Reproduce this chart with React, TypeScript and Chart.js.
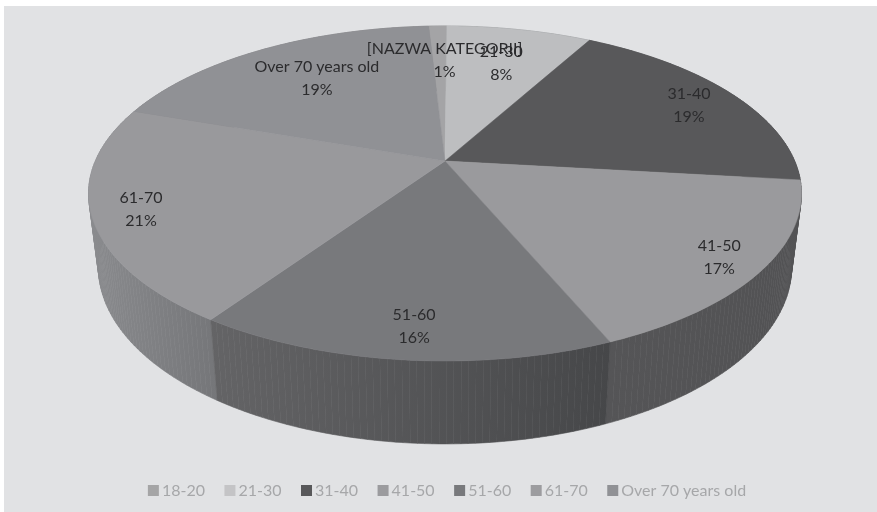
import { useEffect, useRef } from "react";
import { Chart, registerables } from "chart.js";

Chart.register(...registerables);

const categories = ["18-20", "21-30", "31-40", "41-50", "51-60", "61-70", "Over 70 years old"];
const sliceCaptions = ["[NAZWA KATEGORII]", "21-30", "31-40", "41-50", "51-60", "61-70", "Over 70 years old"];
const shares = [1, 8, 19, 17, 16, 21, 19];
const faceColors = ["#a4a4a6", "#bdbec0", "#58585a", "#9a9a9d", "#78797c", "#99999c", "#909195"];
const legendColors = ["#a5a5a6", "#c4c4c6", "#58585a", "#9b9b9e", "#78797c", "#9c9c9f", "#909195"];
const wallLeftColors = ["#808183", "#909193", "#505052", "#555557", "#646466", "#8a8b8e", "#808184"];
const wallRightColors = ["#808183", "#909193", "#505052", "#525254", "#464749", "#757679", "#808184"];
const captionRadii = [0.71, 0.71, 0.84, 0.88, 0.86, 0.87, 0.7];
const captionNudgeX = [5, 1, 1, 0, 5, 1, 5];
const captionNudgeY = [0, 0, 2, 1, 0, 2, -1];

// Perspective of the disc: the rim's near side is foreshortened less than its far side.
const TILT = 0.194;
const topRim = { cx: 445, cy: 161, ax: 349.7, ay: 161.2 };
const bottomRim = { cx: 445, cy: 233, ax: 340, ay: 170 };

type Rim = typeof topRim;

function project(rim: Rim, angle: number, radius = 1) {
  const u = Math.cos(angle) * radius;
  const v = -Math.sin(angle) * radius;
  const w = 1 + TILT * v;
  return { x: rim.cx + (rim.ax * u) / w, y: rim.cy - (rim.ay * v) / w };
}

function rimPoints(rim: Rim, start: number, end: number) {
  const steps = Math.max(2, Math.ceil(((end - start) * 180) / Math.PI));
  const pts = [];
  for (let i = 0; i <= steps; i++) pts.push(project(rim, start + ((end - start) * i) / steps));
  return pts;
}

const disc3d = {
  id: "disc3d",
  beforeDraw(chart: any) {
    const { ctx, width, height } = chart;
    ctx.save();
    ctx.fillStyle = "#ffffff";
    ctx.fillRect(0, 0, width, height);
    ctx.fillStyle = "#e1e2e4";
    ctx.fillRect(4, 6, width - 4, height - 6);
    ctx.restore();
  },
  beforeDatasetDraw(chart: any) {
    const { ctx } = chart;
    const arcs = chart.getDatasetMeta(0).data;
    ctx.save();

    // Side wall, far slices first so nearer ones cover them. Each degree of rim
    // is its own quad, since the two rims cross near the silhouette.
    const order = arcs
      .map((arc: any, i: number) => ({ i, mid: (arc.startAngle + arc.endAngle) / 2 }))
      .sort((a: any, b: any) => Math.sin(a.mid) - Math.sin(b.mid));
    for (const { i } of order) {
      const upper = rimPoints(topRim, arcs[i].startAngle, arcs[i].endAngle);
      const lower = rimPoints(bottomRim, arcs[i].startAngle, arcs[i].endAngle);
      const xs = [...upper, ...lower].map((p) => p.x);
      const grad = ctx.createLinearGradient(Math.min(...xs), 0, Math.max(...xs), 0);
      grad.addColorStop(0, wallLeftColors[i]);
      grad.addColorStop(1, wallRightColors[i]);
      ctx.fillStyle = grad;
      ctx.strokeStyle = grad;
      ctx.lineWidth = 0.6;
      for (let k = 0; k < upper.length - 1; k++) {
        ctx.beginPath();
        ctx.moveTo(upper[k].x, upper[k].y);
        ctx.lineTo(upper[k + 1].x, upper[k + 1].y);
        ctx.lineTo(lower[k + 1].x, lower[k + 1].y);
        ctx.lineTo(lower[k].x, lower[k].y);
        ctx.closePath();
        ctx.fill();
        ctx.stroke();
      }
    }

    // Top face of the disc.
    arcs.forEach((arc: any, i: number) => {
      ctx.fillStyle = faceColors[i];
      ctx.strokeStyle = faceColors[i];
      ctx.lineWidth = 0.5;
      ctx.beginPath();
      ctx.moveTo(topRim.cx, topRim.cy);
      rimPoints(topRim, arc.startAngle, arc.endAngle).forEach((p) => ctx.lineTo(p.x, p.y));
      ctx.closePath();
      ctx.fill();
      ctx.stroke();
    });
    ctx.restore();
    return false;
  },
  afterDatasetsDraw(chart: any) {
    const { ctx } = chart;
    const arcs = chart.getDatasetMeta(0).data;
    ctx.save();
    ctx.font = '16px Lato, "Open Sans", sans-serif';
    ctx.fillStyle = "#2b2b2d";
    ctx.textAlign = "center";
    ctx.textBaseline = "middle";
    arcs.forEach((arc: any, i: number) => {
      const mid = (arc.startAngle + arc.endAngle) / 2;
      const p = project(topRim, mid, captionRadii[i]);
      const x = p.x + captionNudgeX[i];
      const y = p.y + captionNudgeY[i];
      ctx.fillText(sliceCaptions[i], x, y - 11.5);
      ctx.fillText(`${shares[i]}%`, x, y + 11.5);
    });
    ctx.restore();
  },
};

export default function App() {
  const ref = useRef<HTMLCanvasElement>(null);
  useEffect(() => {
    const chart = new Chart(ref.current!, {
      type: "pie",
      data: {
        labels: categories,
        datasets: [{ data: shares, backgroundColor: legendColors, borderWidth: 0 }],
      },
      options: {
        responsive: false,
        animation: false,
        rotation: -3.2,
        layout: { padding: { left: 22, right: 0, top: 0, bottom: 3.5 } },
        plugins: {
          tooltip: { enabled: false },
          legend: {
            position: "bottom",
            labels: {
              usePointStyle: true,
              pointStyle: "rect",
              boxWidth: 1,
              boxHeight: 11,
              padding: 24.5,
              color: "#a6a7a9",
              font: { family: 'Lato, "Open Sans", sans-serif', size: 16 },
            },
          },
        },
      },
      plugins: [disc3d],
    } as any);
    return () => chart.destroy();
  }, []);
  return (
    <div style={{ position: "fixed", left: 0, top: 0, width: 877, height: 512 }}>
      <canvas ref={ref} width={877} height={512} style={{ display: "block" }} />
    </div>
  );
}
